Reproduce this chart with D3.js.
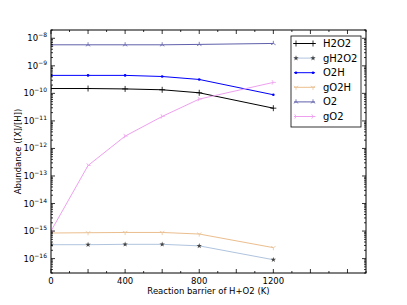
<!DOCTYPE html>
<html>
<head>
<meta charset="utf-8">
<script src="https://cdn.jsdelivr.net/npm/d3@7"></script>
<style>
  body { margin: 0; background: #fff; }
  svg { font-family: "DejaVu Sans", sans-serif; }
</style>
</head>
<body>
<div class="panel"></div>
<script>
const barriers = [0, 200, 400, 600, 800, 1200];
const h2o2 = [1.5e-10, 1.5e-10, 1.45e-10, 1.35e-10, 1.05e-10, 2.9e-11];
const gh2o2 = [3.2e-16, 3.2e-16, 3.3e-16, 3.3e-16, 2.9e-16, 9.1e-17];
const o2h = [4.5e-10, 4.5e-10, 4.5e-10, 4.1e-10, 3.2e-10, 8.9e-11];
const go2h = [8.5e-16, 8.7e-16, 8.9e-16, 8.9e-16, 7.8e-16, 2.5e-16];
const o2 = [5.8e-9, 5.8e-9, 5.8e-9, 5.8e-9, 6.0e-9, 6.5e-9];
const go2 = [1.0e-15, 2.4e-13, 2.8e-12, 1.45e-11, 6.2e-11, 2.5e-10];
const xTicks = [0, 400, 800, 1200];
const yExponents = [-8, -9, -10, -11, -12, -13, -14, -15, -16];

const series = [
  { name: "H2O2", values: h2o2, line: "#000000", mark: "#000000", marker: "plus" },
  { name: "gH2O2", values: gh2o2, line: "#b0c4de", mark: "#444444", marker: "star" },
  { name: "O2H", values: o2h, line: "#0000ff", mark: "#0000ff", marker: "dot" },
  { name: "gO2H", values: go2h, line: "#ebbe8e", mark: "#e8c49c", marker: "tridown" },
  { name: "O2", values: o2, line: "#6060ac", mark: "#6060ac", marker: "triup" },
  { name: "gO2", values: go2, line: "#eea0ee", mark: "#eea0ee", marker: "triright" }
];

const width = 407, height = 305;
const plotLeft = 51, plotRight = 366, plotTop = 30, plotBottom = 273;

const svg = d3.select(".panel").append("svg")
  .attr("width", width).attr("height", height);

const x = d3.scaleLinear().domain([0, 1700]).range([plotLeft, plotRight]);
const y = d3.scaleLog().domain([3e-17, 2e-8]).range([plotBottom, plotTop]);

svg.append("clipPath").attr("id", "plot-clip")
  .append("rect").attr("x", plotLeft).attr("y", plotTop)
  .attr("width", plotRight - plotLeft).attr("height", plotBottom - plotTop);

// lines
const line = d3.line().x((d, i) => x(barriers[i])).y(d => y(d));
const plot = svg.append("g").attr("clip-path", "url(#plot-clip)");

series.forEach(s => {
  plot.append("path")
    .attr("d", line(s.values))
    .attr("fill", "none")
    .attr("stroke", s.line)
    .attr("stroke-width", 1);
});

function drawMarker(g, type, cx, cy, colour) {
  const r = 3;
  if (type === "plus") {
    g.append("path").attr("d", `M${cx - r},${cy}H${cx + r}M${cx},${cy - r}V${cy + r}`)
      .attr("stroke", colour).attr("stroke-width", 0.8);
  } else if (type === "dot") {
    g.append("circle").attr("cx", cx).attr("cy", cy).attr("r", 1.3).attr("fill", colour);
  } else if (type === "star") {
    g.append("path").attr("d", d3.symbol(d3.symbolStar, 9)())
      .attr("transform", `translate(${cx},${cy})`)
      .attr("fill", colour);
  } else {
    const base = type === "tridown" ? 90 : type === "triup" ? -90 : 0;
    const rr = 2.6;
    let d = "";
    [0, 120, 240].forEach(a => {
      const t = (base + a) * Math.PI / 180;
      d += `M${cx},${cy}L${cx + rr * Math.cos(t)},${cy + rr * Math.sin(t)}`;
    });
    g.append("path").attr("d", d).attr("fill", "none")
      .attr("stroke", colour).attr("stroke-width", 0.8);
  }
}

series.forEach(s => {
  s.values.forEach((v, i) => drawMarker(plot, s.marker, x(barriers[i]), y(v), s.mark));
});

// frame
svg.append("rect")
  .attr("x", plotLeft).attr("y", plotTop)
  .attr("width", plotRight - plotLeft).attr("height", plotBottom - plotTop)
  .attr("fill", "none").attr("stroke", "#000").attr("stroke-width", 1);

// x ticks (inward, top and bottom)
const ticksG = svg.append("g").attr("stroke", "#000").attr("stroke-width", 0.8);
d3.range(0, 1701, 100).forEach(v => {
  const len = v % 200 === 0 ? 4 : 2;
  ticksG.append("line").attr("x1", x(v)).attr("x2", x(v)).attr("y1", plotBottom).attr("y2", plotBottom - len);
  ticksG.append("line").attr("x1", x(v)).attr("x2", x(v)).attr("y1", plotTop).attr("y2", plotTop + len);
});

// y ticks: majors every decade, minors 2..9
for (let e = -17; e <= -8; e++) {
  for (let m = 1; m <= 9; m++) {
    const v = m * Math.pow(10, e);
    if (v < 3e-17 || v > 2e-8) continue;
    const len = m === 1 ? 4 : 2;
    ticksG.append("line").attr("x1", plotLeft).attr("x2", plotLeft + len).attr("y1", y(v)).attr("y2", y(v));
    ticksG.append("line").attr("x1", plotRight).attr("x2", plotRight - len).attr("y1", y(v)).attr("y2", y(v));
  }
}

// tick labels
svg.append("g").selectAll("text")
  .data(xTicks).enter().append("text")
  .attr("x", d => x(d)).attr("y", plotBottom + 11)
  .attr("text-anchor", "middle")
  .attr("font-size", 8.5)
  .text(d => d);

const yl = svg.append("g").selectAll("text")
  .data(yExponents).enter().append("text")
  .attr("x", plotLeft - 4).attr("y", d => y(Math.pow(10, d)) + 3)
  .attr("text-anchor", "end")
  .attr("font-size", 8.5);
yl.append("tspan").text("10");
yl.append("tspan").attr("font-size", 6).attr("dy", -4).text(d => "\u2212" + (-d));

// axis titles
svg.append("text")
  .attr("x", (plotLeft + plotRight) / 2).attr("y", 294)
  .attr("text-anchor", "middle").attr("font-size", 8.5)
  .text("Reaction barrier of H+O2 (K)");

svg.append("text")
  .attr("transform", `translate(21,${(plotTop + plotBottom) / 2}) rotate(-90)`)
  .attr("text-anchor", "middle").attr("font-size", 8.5)
  .text("Abundance ([X]/[H])");

// legend
const legend = svg.append("g");
legend.append("rect")
  .attr("x", 291).attr("y", 36).attr("width", 70).attr("height", 91)
  .attr("fill", "#fff").attr("stroke", "#000").attr("stroke-width", 0.8);

series.forEach((s, i) => {
  const ly = 43.5 + i * 14.6;
  legend.append("line").attr("x1", 294).attr("x2", 315).attr("y1", ly).attr("y2", ly)
    .attr("stroke", s.line).attr("stroke-width", 1);
  drawMarker(legend, s.marker, 296, ly, s.mark);
  drawMarker(legend, s.marker, 313, ly, s.mark);
  legend.append("text").attr("x", 323).attr("y", ly + 3.5)
    .attr("font-size", 10).text(s.name);
});
</script>
</body>
</html>
